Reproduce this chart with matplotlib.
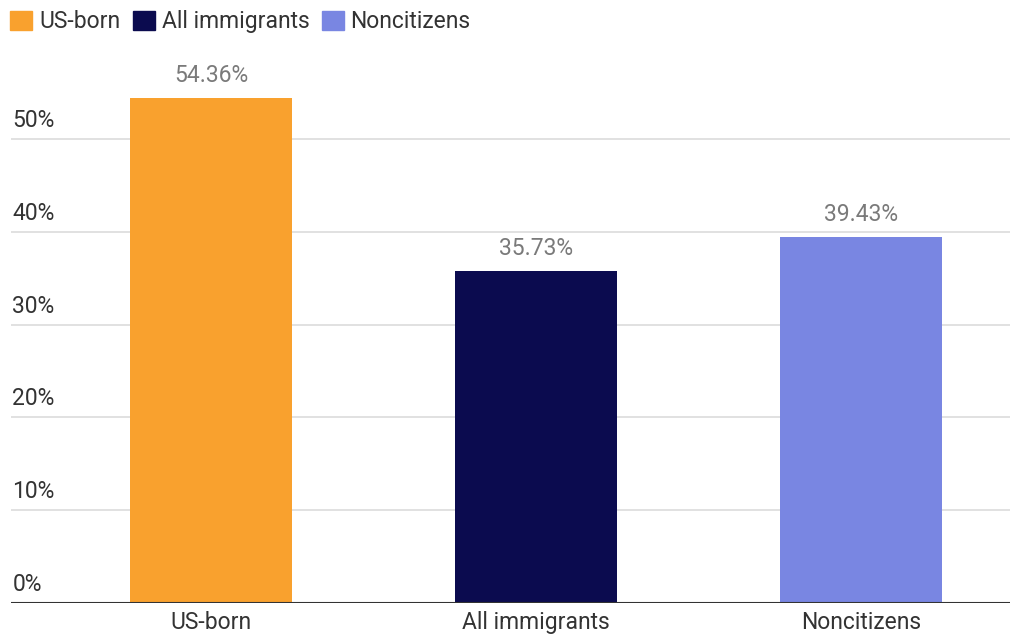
import matplotlib.pyplot as plt
from matplotlib.patches import Patch

# --- data ---
groups = ['US-born', 'All immigrants', 'Noncitizens']
shares = [54.36, 35.73, 39.43]
colors = ['#F9A12E', '#0B0B4F', '#7986E2']
yticks = [0, 10, 20, 30, 40, 50]

plt.rcParams['font.family'] = ['Roboto', 'DejaVu Sans']
FS = 16.5

fig = plt.figure(figsize=(10.13, 6.36), dpi=100)
ax = fig.add_axes([11 / 1013, 33 / 636, 999 / 1013, 557 / 636])

x = range(len(groups))
ax.bar(x, shares, width=0.5, color=colors, zorder=3)

for xi, v in zip(x, shares):
    ax.annotate(f'{v:.2f}%', (xi, v), xytext=(0, 8), textcoords='offset points',
                ha='center', va='bottom', fontsize=FS, color='#7a7a7a')

ax.set_xlim(-0.615, 2.458)
ax.set_ylim(0, 60)

# gridlines with labels sitting just above each line
for t in yticks:
    if t > 0:
        ax.axhline(t, color='#dcdcdc', lw=1.2, zorder=1)
    ax.annotate(f'{t}%', (0, t), xycoords=('axes fraction', 'data'),
                xytext=(1, 5), textcoords='offset points',
                ha='left', va='bottom', fontsize=FS, color='#333333')
ax.axhline(0, color='#333333', lw=1.5, zorder=4)

ax.set_xticks(list(x))
ax.set_xticklabels(groups, fontsize=FS, color='#333333')
ax.tick_params(axis='x', length=0, pad=6)
ax.set_yticks([])
for s in ax.spines.values():
    s.set_visible(False)

handles = [Patch(color=c, label=g) for c, g in zip(colors, groups)]
fig.legend(handles=handles, loc='upper left', bbox_to_anchor=(-0.01, 1.016), ncol=3,
           frameon=False, fontsize=FS, handlelength=0.95, handleheight=0.95,
           handletextpad=0.3, columnspacing=0.55, labelcolor='#333333')

fig.savefig('out.png', dpi=100)
